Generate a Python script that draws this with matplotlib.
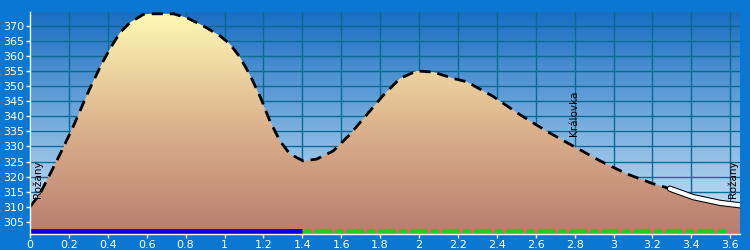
import numpy as np
import matplotlib
matplotlib.use("Agg")
import matplotlib.pyplot as plt
import matplotlib.patheffects as pe
from matplotlib.colors import LinearSegmentedColormap
from matplotlib.ticker import FuncFormatter

# profile: distance (km) vs elevation (m)
dist = [0.0, 0.051, 0.112, 0.171, 0.223, 0.274, 0.308, 0.369, 0.411, 0.463, 0.514,
        0.583, 0.617, 0.737, 0.806, 0.891, 0.977, 1.028, 1.08, 1.131, 1.183, 1.234,
        1.285, 1.337, 1.405, 1.474, 1.559, 1.645, 1.731, 1.817, 1.902, 1.988, 2.074,
        2.177, 2.245, 2.382, 2.519, 2.657, 2.793, 2.931, 3.068, 3.205, 3.29, 3.41,
        3.548, 3.65]
elev = [310, 314.3, 322, 329.6, 336.7, 344.3, 349.2, 357.4, 362.3, 367.7, 371,
        373.7, 373.9, 373.9, 372.6, 369.9, 366.6, 363.9, 359.5, 353.6, 346.5, 338.3,
        331.8, 327.4, 325.2, 325.8, 328.5, 334, 340.5, 347, 352.5, 355, 354.6,
        352.5, 351.4, 346.5, 340.5, 335, 330.1, 325.2, 320.9, 317.6, 316.0, 313.2,
        311.3, 310.5]
split_km = 3.29          # last stretch drawn as white line
blue_end = 1.4           # bottom bar: blue part, then green dotted
green_end = 3.6
label_x = [0.041, 2.797, 3.612]
label_y = [312.8, 333.4, 312.8]
label_txt = ["Rožany", "Královka", "Rožany"]

xmin, xmax = 0, 3.65
ymin, ymax = 301, 374.5

fig = plt.figure(figsize=(7.5, 2.5), dpi=100)
fig.patch.set_facecolor("#0a78d2")
ax = fig.add_axes([30 / 750, 16 / 250, 710 / 750, 222 / 250])
ax.set_xlim(xmin, xmax)
ax.set_ylim(ymin, ymax)

# sky gradient
sky = LinearSegmentedColormap.from_list("sky", ["#d2ebfa", "#1a6ec2"])
grad = np.linspace(0, 1, 256).reshape(-1, 1)
ax.imshow(grad, cmap=sky, aspect="auto", origin="lower",
          extent=[xmin, xmax, ymin, ymax], zorder=0)

ax.set_xticks(np.arange(0, 3.61, 0.2))
ax.set_yticks(np.arange(305, 371, 5))
ax.set_axisbelow(True)
ax.grid(True, color="#0a6a94", lw=1)

# ground fill with gradient
ground = LinearSegmentedColormap.from_list("ground", ["#b97c6e", "#ddb48e", "#fff9b4"])
poly = ax.fill_between(dist, elev, ymin, color="none", zorder=2)
img = ax.imshow(grad, cmap=ground, aspect="auto", origin="lower",
                extent=[xmin, xmax, ymin, 374], zorder=2)
img.set_clip_path(poly.get_paths()[0], transform=ax.transData)

d = np.array(dist)
e = np.array(elev)
m1 = d <= split_km
ax.plot(d[m1], e[m1], color="black", lw=2, dashes=(4, 2.5), zorder=4)
m2 = d >= split_km
ax.plot(d[m2], e[m2], color="white", lw=3, solid_capstyle="round", zorder=4,
        path_effects=[pe.Stroke(linewidth=4.5, foreground="black"), pe.Normal()])

# bottom bar
ax.plot([0, blue_end], [301.6, 301.6], color="#0000ee", lw=5, solid_capstyle="butt", zorder=5)
ax.plot([blue_end + 0.02, green_end], [301.6, 301.6], color="#22cc22", lw=4.5,
        dashes=(0.5, 1.3, 2.0, 1.3), dash_capstyle="round", zorder=5)

for x, y, t in zip(label_x, label_y, label_txt):
    ax.text(x, y, t, rotation=90, ha="center", va="bottom", fontsize=7.5,
            color="black", family="DejaVu Sans", zorder=6)

for s in ["top", "right"]:
    ax.spines[s].set_visible(False)
for s in ["left", "bottom"]:
    ax.spines[s].set_color("white")
    ax.spines[s].set_linewidth(1)
    ax.spines[s].set_zorder(7)
ax.tick_params(colors="white", labelsize=8, length=3, width=1, pad=1)
ax.xaxis.set_major_formatter(FuncFormatter(lambda v, p: ("%.1f" % v).rstrip("0").rstrip(".")))

fig.savefig("out.png", dpi=100, facecolor=fig.get_facecolor())
